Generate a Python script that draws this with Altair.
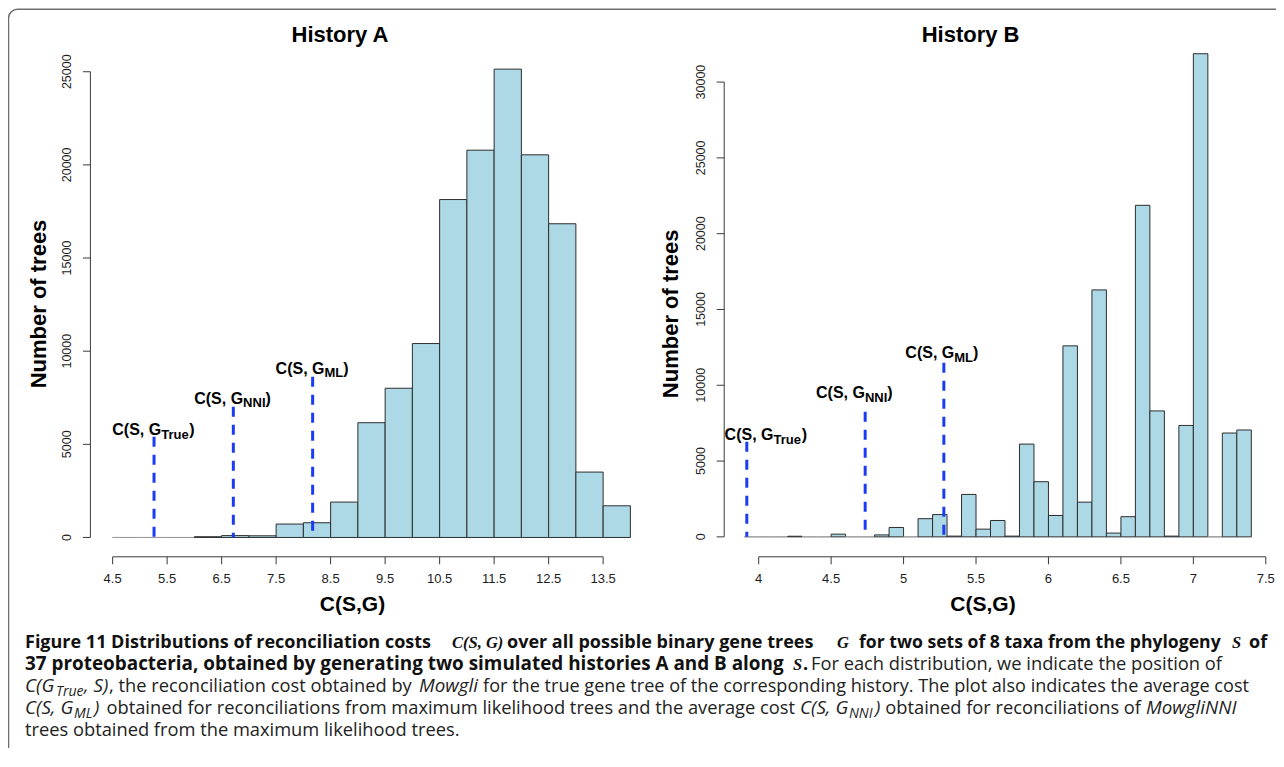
import altair as alt
import pandas as pd

# ---------------- values ----------------
# History A : histogram of C(S,G), bins of width 0.5
A_BIN_START = [4.5, 5.0, 5.5, 6.0, 6.5, 7.0, 7.5, 8.0, 8.5, 9.0, 9.5,
               10.0, 10.5, 11.0, 11.5, 12.0, 12.5, 13.0, 13.5]
A_BIN_WIDTH = 0.5
A_COUNTS = [0, 0, 0, 40, 100, 90, 720, 790, 1900, 6160, 8010,
            10410, 18140, 20790, 25140, 20540, 16840, 3510, 1700]

# History B : histogram of C(S,G), bins of width 0.1
B_BIN_START = [3.9, 4.0, 4.1, 4.2, 4.3, 4.4, 4.5, 4.6, 4.7, 4.8, 4.9,
               5.0, 5.1, 5.2, 5.3, 5.4, 5.5, 5.6, 5.7, 5.8, 5.9,
               6.0, 6.1, 6.2, 6.3, 6.4, 6.5, 6.6, 6.7, 6.8, 6.9,
               7.0, 7.1, 7.2, 7.3]
B_BIN_WIDTH = 0.1
B_COUNTS = [0, 0, 0, 40, 0, 0, 180, 0, 0, 130, 620,
            0, 1200, 1470, 50, 2800, 510, 1080, 50, 6120, 3640,
            1410, 12600, 2290, 16290, 250, 1330, 21870, 8310, 50, 7350,
            31870, 0, 6850, 7050]

# dashed markers C(S, G_True), C(S, G_NNI), C(S, G_ML)
MARK_SUBS = ["True", "NNI", "ML"]
A_MARK_X = [5.26, 6.715, 8.17]
A_MARK_TOP = [5400, 7010, 8630]
A_LABEL_X = [5.25, 6.70, 8.16]
A_LABEL_Y = [5490, 7190, 8800]
B_MARK_X = [3.918, 4.735, 5.278]
B_MARK_TOP = [6280, 8260, 11490]
B_LABEL_X = [4.049, 4.66, 5.264]
B_LABEL_Y = [6390, 9140, 11780]

A_X_TICKS = [4.5, 5.5, 6.5, 7.5, 8.5, 9.5, 10.5, 11.5, 12.5, 13.5]
A_Y_TICKS = [0, 5000, 10000, 15000, 20000, 25000]
B_X_TICKS = [4, 4.5, 5, 5.5, 6, 6.5, 7, 7.5]
B_Y_TICKS = [0, 5000, 10000, 15000, 20000, 25000, 30000]

PANEL_TITLES = ["History A", "History B"]
X_TITLE = "C(S,G)"
Y_TITLE = "Number of trees"

# ---------------- layout / style ----------------
W, H = 1268, 740
AXIS_Y = 548.8
TICK = 7.5
FONT = "Liberation Sans"
CAP_FONT = "Open Sans"
MATH_FONT = "Liberation Serif"
BAR_FILL = "#ADD8E6"
BAR_EDGE = "#2e2e2e"
ZERO_EDGE = "#9a9a9a"
DASH_BLUE = "#1b3cf2"
AXIS_COL = "#3a3a3a"
LABEL_COL = "#1c1c1c"

ARIAL_BOLD = {"C": 722, "(": 333, "S": 667, ",": 278, " ": 278, "G": 778,
              "T": 611, "r": 389, "u": 611, "e": 556, "N": 722, "I": 278,
              "M": 833, "L": 611, ")": 333}


def text_w(s, size):
    return sum(ARIAL_BOLD.get(c, 600) for c in s) * size / 1000.0


def panel(bin_start, bin_w, counts, x_ticks, y_ticks, x_fmt,
          mark_x, mark_top, label_x, label_y,
          x_dom, x_rng, y_dom, y_rng, y_axis_px):
    xs = alt.Scale(domain=x_dom, range=x_rng, nice=False, zero=False)
    ys = alt.Scale(domain=y_dom, range=y_rng, nice=False, zero=False)

    def X(f):
        return alt.X(f, scale=xs, axis=None, title=None)

    def Y(f):
        return alt.Y(f, scale=ys, axis=None, title=None)

    bars_df = pd.DataFrame({"lo": bin_start,
                            "hi": [round(b + bin_w, 3) for b in bin_start],
                            "n": counts})
    bars = alt.Chart(bars_df).mark_rect(fill=BAR_FILL, strokeWidth=1).encode(
        x=X("lo:Q"), x2="hi", y=Y("n:Q"), y2=alt.datum(0),
        stroke=alt.when(alt.datum.n == 0).then(alt.value(ZERO_EDGE)).otherwise(alt.value(BAR_EDGE)),
    )

    # x axis (R style: line from first to last tick, ticks outward)
    xt = pd.DataFrame({"t": x_ticks})
    xline = alt.Chart(pd.DataFrame({"a": [x_ticks[0]], "b": [x_ticks[-1]]})).mark_rule(
        color=AXIS_COL, strokeWidth=1).encode(x=X("a:Q"), x2="b", y=alt.value(AXIS_Y))
    xticks = alt.Chart(xt).mark_rule(color=AXIS_COL, strokeWidth=1).encode(
        x=X("t:Q"), y=alt.value(AXIS_Y), y2=alt.value(AXIS_Y + TICK))
    xlabels = alt.Chart(xt).mark_text(font=FONT, fontSize=13, color=LABEL_COL,
                                      align="center", baseline="middle").encode(
        x=X("t:Q"), y=alt.value(AXIS_Y + 22), text=alt.Text("t:Q", format=x_fmt))

    # y axis
    yt = pd.DataFrame({"t": y_ticks})
    yline = alt.Chart(pd.DataFrame({"a": [y_ticks[0]], "b": [y_ticks[-1]]})).mark_rule(
        color=AXIS_COL, strokeWidth=1).encode(y=Y("a:Q"), y2="b", x=alt.value(y_axis_px))
    yticks = alt.Chart(yt).mark_rule(color=AXIS_COL, strokeWidth=1).encode(
        y=Y("t:Q"), x=alt.value(y_axis_px - TICK), x2=alt.value(y_axis_px))
    ylabels = alt.Chart(yt).mark_text(font=FONT, fontSize=12.5, color=LABEL_COL,
                                      align="center", baseline="middle", angle=270).encode(
        y=Y("t:Q"), x=alt.value(y_axis_px - 23.5), text=alt.Text("t:Q", format="d"))

    mk = pd.DataFrame({"x": mark_x, "top": mark_top, "base": [0] * len(mark_x)})
    dashes = alt.Chart(mk).mark_rule(color=DASH_BLUE, strokeWidth=3,
                                     strokeDash=[10, 8]).encode(
        x=X("x:Q"), y=Y("top:Q"), y2="base")

    layers = [bars, xline, xticks, xlabels, yline, yticks, ylabels, dashes]
    main_size, sub_size = 16, 13
    for i, sub in enumerate(MARK_SUBS):
        w1 = text_w("C(S, G", main_size)
        ws = text_w(sub, sub_size)
        wp = text_w(")", main_size)
        off = w1 - (w1 + ws + wp) / 2.0
        d = alt.Chart(pd.DataFrame({"x": [label_x[i]], "y": [label_y[i]]}))
        enc = dict(x=X("x:Q"), y=Y("y:Q"))
        layers.append(d.mark_text(text="C(S, G", align="right", baseline="alphabetic",
                                  dx=off, font=FONT, fontSize=main_size,
                                  fontWeight="bold", color="black").encode(**enc))
        layers.append(d.mark_text(text=sub, align="left", baseline="alphabetic",
                                  dx=off, dy=3.5, font=FONT, fontSize=sub_size,
                                  fontWeight="bold", color="black").encode(**enc))
        layers.append(d.mark_text(text=")", align="left", baseline="alphabetic",
                                  dx=off + ws, font=FONT, fontSize=main_size,
                                  fontWeight="bold", color="black").encode(**enc))
    return alt.layer(*layers)


panel_a = panel(A_BIN_START, A_BIN_WIDTH, A_COUNTS, A_X_TICKS, A_Y_TICKS, ".1f",
                A_MARK_X, A_MARK_TOP, A_LABEL_X, A_LABEL_Y,
                [4.12, 14.38], [83.9, 643.1], [-1006, 26146], [548.2, 42.4], 82.4)
panel_b = panel(B_BIN_START, B_BIN_WIDTH, B_COUNTS, B_X_TICKS, B_Y_TICKS, ".1~f",
                B_MARK_X, B_MARK_TOP, B_LABEL_X, B_LABEL_Y,
                [3.76, 7.54], [715.9, 1263.6], [-1275, 33145], [548.2, 26.4], 716.2)

one = pd.DataFrame({"k": [0]})
deco = []
# figure frame (rounded box, right/bottom sides run off the page)
deco.append(alt.Chart(one).mark_rect(fillOpacity=0, stroke="#6e6e6e", strokeWidth=1.5,
                                     cornerRadius=9).encode(
    x=alt.value(0.5), x2=alt.value(W + 40), y=alt.value(1.3), y2=alt.value(H + 40)))

# panel titles and axis titles
for txt, px in zip(PANEL_TITLES, [332, 962.6]):
    deco.append(alt.Chart(one).mark_text(text=txt, font=FONT, fontSize=22, fontWeight="bold",
                                         align="center", baseline="alphabetic",
                                         color="black").encode(
        x=alt.value(px), y=alt.value(34)))
for px in [344.5, 975]:
    deco.append(alt.Chart(one).mark_text(text=X_TITLE, font=FONT, fontSize=21, fontWeight="bold",
                                         align="center", baseline="alphabetic",
                                         color="black").encode(
        x=alt.value(px), y=alt.value(603)))
for px, py in [(31.4, 296), (662.8, 305.8)]:
    deco.append(alt.Chart(one).mark_text(text=Y_TITLE, font=FONT, fontSize=22, fontWeight="bold",
                                         align="center", baseline="middle", angle=270,
                                         color="black").encode(
        x=alt.value(px), y=alt.value(py)))

# caption (figure legend) text segments: baseline y, x, align, style, text
CAPTION = [
    (640, 17, "left", "bold", "Figure 11 Distributions of reconciliation costs"),
    (640, 444, "left", "math", "C(S, G)"),
    (640, 499, "left", "bold", "over all possible binary gene trees"),
    (640, 829, "left", "math", "G"),
    (640, 851, "left", "boldn", "for two sets of 8 taxa from the phylogeny"),
    (640, 1224, "left", "math", "S"),
    (640, 1241, "left", "bold", "of"),
    (662, 17, "left", "boldw", "37 proteobacteria, obtained by generating two simulated histories A and B along"),
    (662, 785, "left", "math", "S"),
    (662, 795, "left", "bold", "."),
    (662, 803, "left", "reg", "For each distribution, we indicate the position of"),
    (684, 17, "left", "ital", "C(G"),
    (684, 48, "left", "sub", "True"),
    (684, 76, "left", "ital", ", S)"),
    (684, 101, "left", "reg", ", the reconciliation cost obtained by"),
    (684, 411, "left", "ital", "Mowgli"),
    (684, 1241, "right", "reg2", "for the true gene tree of the corresponding history. The plot also indicates the average cost"),
    (706, 17, "left", "ital", "C(S, G"),
    (706, 66, "left", "sub", "ML"),
    (706, 86, "left", "ital", ")"),
    (706, 787, "right", "reg", "obtained for reconciliations from maximum likelihood trees and the average cost"),
    (706, 792, "left", "ital", "C(S, G"),
    (706, 841, "left", "sub", "NNI"),
    (706, 867, "left", "ital", ")"),
    (706, 1133, "right", "reg", "obtained for reconciliations of"),
    (706, 1138, "left", "ital", "MowgliNNI"),
    (728, 17, "left", "reg", "trees obtained from the maximum likelihood trees."),
]
STYLES = {
    "bold": dict(font=CAP_FONT, fontSize=18, fontWeight="bold", color="#111111"),
    "boldn": dict(font=CAP_FONT, fontSize=17.6, fontWeight="bold", color="#111111"),
    "boldw": dict(font=CAP_FONT, fontSize=18.9, fontWeight="bold", color="#111111"),
    "reg": dict(font=CAP_FONT, fontSize=18.3, fontWeight="normal", color="#222222"),
    "reg2": dict(font=CAP_FONT, fontSize=18.1, fontWeight="normal", color="#222222"),
    "ital": dict(font=CAP_FONT, fontSize=18.8, fontStyle="italic", color="#222222"),
    "sub": dict(font=CAP_FONT, fontSize=14, fontStyle="italic", dy=4, color="#222222"),
    "math": dict(font=MATH_FONT, fontSize=16.5, fontWeight="bold", fontStyle="italic", color="#111111"),
}
cap_df = pd.DataFrame(CAPTION, columns=["y", "x", "align", "style", "text"])
for (style, align), g in cap_df.groupby(["style", "align"]):
    deco.append(alt.Chart(g[["x", "y", "text"]].reset_index(drop=True)).mark_text(
        align=align, baseline="alphabetic", **STYLES[style]).encode(
        x=alt.X("x:Q", scale=None, axis=None),
        y=alt.Y("y:Q", scale=None, axis=None),
        text="text:N"))

chart = alt.layer(panel_a, panel_b, *deco).resolve_scale(
    x="independent", y="independent").resolve_axis(
    x="independent", y="independent").properties(
    width=W, height=H, autosize=alt.AutoSizeParams(type="none"), padding=0
).configure_view(stroke=None)

chart.save("out.html", embed_options={"renderer": "svg", "actions": False})
